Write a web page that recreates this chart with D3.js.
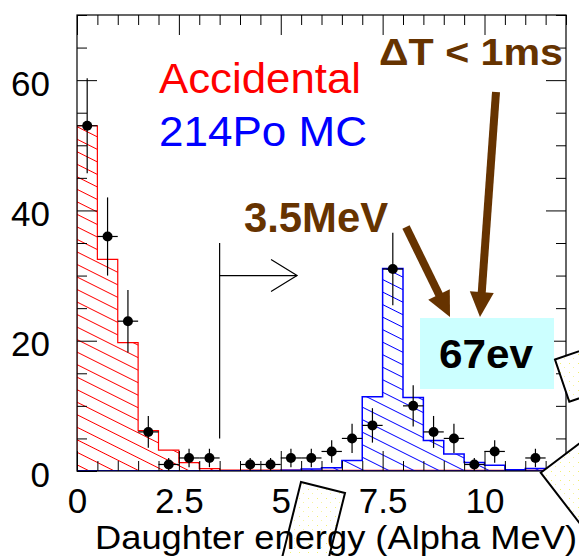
<!DOCTYPE html>
<html>
<head>
<meta charset="utf-8">
<script src="https://cdn.jsdelivr.net/npm/d3@7"></script>
<style>
  html, body { margin: 0; padding: 0; background: #fff; }
  svg { display: block; font-family: "Liberation Sans", Arial, Helvetica, sans-serif; }
</style>
</head>
<body>
<svg id="chart" width="579" height="556"></svg>
<script>
// ---------------- data ----------------
const binWidth = 0.5;
const binCenters = [0.25,0.75,1.25,1.75,2.25,2.75,3.25,3.75,4.25,4.75,5.25,5.75,
                    6.25,6.75,7.25,7.75,8.25,8.75,9.25,9.75,10.25,10.75,11.25,11.75];
const dataCounts = [53,36,23,6,1,2,2,0,1,1,2,2,3,5,7,31,10,6,5,1,3,0,2,0];
const accidental = [53,32.5,19.7,6.2,3.2,1.3,0.35,0.15,0.15,0.15,0.15,0.1,
                    0.1,0.1,0.1,0.1,0.1,0.1,0.1,0.1,0.1,0.1,0.1,0.1];
const po214MC = [0.05,0.05,0.05,0.05,0.05,0.05,0.05,0.05,0.05,0.05,0.1,0.3,
                 0.5,1.6,11.4,31.1,11.3,4.7,2.6,1.3,0.9,0.2,0.4,0.1];
const xMajorTicks = [0,2.5,5,7.5,10];
const xTickLabels = ["0","2.5","5","7.5","10"];
const yMajorTicks = [0,20,40,60];
const yTickLabels = ["0","20","40","60"];
const energyCut = 3.5;
const xTitle = "Daughter energy (Alpha MeV)";

// ---------------- setup ----------------
const svg = d3.select("#chart");
const L = 77, R = 566, T = 15, B = 471;
const x = d3.scaleLinear().domain([0,12]).range([L,R]);
const y = d3.scaleLinear().domain([0,70]).range([B,T]);
const brown = "#663300";

const defs = svg.append("defs");
function hatch(id, color){
  const p = defs.append("pattern").attr("id", id)
    .attr("patternUnits","userSpaceOnUse").attr("width", 40).attr("height", 11.2)
    .attr("patternTransform","rotate(26.57)");
  p.append("line").attr("x1",0).attr("x2",40).attr("y1",0.5).attr("y2",0.5)
    .attr("stroke",color).attr("stroke-width",1.1);
}
hatch("hRed","#ff0000");
hatch("hBlue","#0000ff");
const dots = defs.append("pattern").attr("id","dots").attr("patternUnits","userSpaceOnUse")
  .attr("width",9).attr("height",9);
dots.append("rect").attr("width",9).attr("height",9).attr("fill","#ffffff");
dots.append("rect").attr("x",2).attr("y",3).attr("width",1).attr("height",1).attr("fill","#f2f070");
dots.append("rect").attr("x",6).attr("y",7).attr("width",1).attr("height",1).attr("fill","#f5f3a0");
defs.append("clipPath").attr("id","plotClip").append("rect")
  .attr("x",L).attr("y",T).attr("width",R-L).attr("height",B-T);

const plot = svg.append("g").attr("clip-path","url(#plotClip)");

// histograms
function histPath(vals){
  const pts = [{e:0,v:0}, ...vals.map((v,i)=>({e:binCenters[i]-binWidth/2, v})), {e:12, v:0}];
  return d3.line().x(d=>x(d.e)).y(d=>y(d.v)).curve(d3.curveStepAfter)(pts) + "Z";
}
plot.append("path").attr("d", histPath(accidental))
  .attr("fill","url(#hRed)").attr("stroke","#ff0000").attr("stroke-width",1.2);
plot.append("path").attr("d", histPath(po214MC))
  .attr("fill","url(#hBlue)").attr("stroke","#0000ff").attr("stroke-width",1.5);

// axes (ticks inside, mirrored)
const minorX = d3.range(0,12.01,0.5).filter(v=>!xMajorTicks.includes(v));
const minorY = d3.range(0,70.01,5).filter(v=>!yMajorTicks.includes(v));
function styleAxis(g){ g.select(".domain").remove(); g.selectAll("line").attr("stroke","#000").attr("stroke-width",1); }
svg.append("g").attr("transform",`translate(0,${B})`)
  .call(d3.axisBottom(x).tickValues(xMajorTicks).tickSize(-20).tickPadding(17)
        .tickFormat((d,i)=>xTickLabels[i]))
  .call(styleAxis)
  .call(g=>g.selectAll("text").attr("font-size",35).attr("fill","#000")
        .attr("font-family","Liberation Sans, Arial, sans-serif"));
svg.append("g").attr("transform",`translate(0,${B})`)
  .call(d3.axisBottom(x).tickValues(minorX).tickSize(-10).tickFormat("")).call(styleAxis);
svg.append("g").attr("transform",`translate(0,${T})`)
  .call(d3.axisTop(x).tickValues(xMajorTicks).tickSize(-20).tickFormat("")).call(styleAxis);
svg.append("g").attr("transform",`translate(0,${T})`)
  .call(d3.axisTop(x).tickValues(minorX).tickSize(-10).tickFormat("")).call(styleAxis);
svg.append("g").attr("transform",`translate(${L},0)`)
  .call(d3.axisLeft(y).tickValues(yMajorTicks).tickSize(-20).tickPadding(27)
        .tickFormat((d,i)=>yTickLabels[i]))
  .call(styleAxis)
  .call(g=>g.selectAll("text").attr("font-size",35).attr("dy","0.43em").attr("fill","#000")
        .attr("font-family","Liberation Sans, Arial, sans-serif"));
svg.append("g").attr("transform",`translate(${L},0)`)
  .call(d3.axisLeft(y).tickValues(minorY).tickSize(-10).tickFormat("")).call(styleAxis);
svg.append("g").attr("transform",`translate(${R},0)`)
  .call(d3.axisRight(y).tickValues(yMajorTicks).tickSize(-20).tickFormat("")).call(styleAxis);
svg.append("g").attr("transform",`translate(${R},0)`)
  .call(d3.axisRight(y).tickValues(minorY).tickSize(-10).tickFormat("")).call(styleAxis);

svg.append("rect").attr("x",L).attr("y",T).attr("width",R-L).attr("height",B-T)
  .attr("fill","none").attr("stroke","#000").attr("stroke-width",1.2);

// data points with errors
const pts = binCenters.map((c,i)=>({c, n:dataCounts[i]})).filter(d=>d.n>0);
const pg = svg.append("g");
pg.selectAll("line.v").data(pts).join("line")
  .attr("x1",d=>x(d.c)).attr("x2",d=>x(d.c))
  .attr("y1",d=>y(d.n+Math.sqrt(d.n))).attr("y2",d=>y(Math.max(0,d.n-Math.sqrt(d.n))))
  .attr("stroke","#000").attr("stroke-width",1.2);
pg.selectAll("line.h").data(pts).join("line")
  .attr("x1",d=>x(d.c-binWidth/2)).attr("x2",d=>x(d.c+binWidth/2))
  .attr("y1",d=>y(d.n)).attr("y2",d=>y(d.n))
  .attr("stroke","#000").attr("stroke-width",1.2);
pg.selectAll("circle").data(pts).join("circle")
  .attr("cx",d=>x(d.c)).attr("cy",d=>y(d.n)).attr("r",5).attr("fill","#000");

// energy cut line and open arrow
const ann = svg.append("g");
ann.append("line").attr("x1",x(energyCut)).attr("x2",x(energyCut))
  .attr("y1",y(35)).attr("y2",y(5)).attr("stroke","#000").attr("stroke-width",1.2);
ann.append("line").attr("x1",x(energyCut)).attr("x2",x(5.4))
  .attr("y1",y(30)).attr("y2",y(30)).attr("stroke","#000").attr("stroke-width",1.2);
ann.append("path")
  .attr("d",`M${x(5.4)-26},${y(30)-16}L${x(5.4)},${y(30)}L${x(5.4)-26},${y(30)+16}`)
  .attr("fill","none").attr("stroke","#000").attr("stroke-width",1.2);

// brown arrows
function fatArrow(x0,y0,x1,y1){
  const dx=x1-x0, dy=y1-y0, len=Math.hypot(dx,dy), ux=dx/len, uy=dy/len;
  const hl=25, hw=12;
  const bx=x1-ux*hl, by=y1-uy*hl;
  ann.append("line").attr("x1",x0).attr("y1",y0).attr("x2",bx+ux*2).attr("y2",by+uy*2)
    .attr("stroke",brown).attr("stroke-width",8);
  ann.append("path")
    .attr("d",`M${x1},${y1}L${bx-uy*hw},${by+ux*hw}L${bx+uy*hw},${by-ux*hw}Z`)
    .attr("fill",brown);
}
fatArrow(406,227,450,317);
fatArrow(496,92,480,317);

// cyan box
ann.append("rect").attr("x",420).attr("y",318).attr("width",134).attr("height",71).attr("fill","#ccffff");
ann.append("text").attr("x",439).attr("y",368).attr("font-size",40).attr("font-weight","bold")
  .attr("textLength",94).attr("lengthAdjust","spacingAndGlyphs").attr("fill","#000").text("67ev");

// labels
ann.append("text").attr("x",159).attr("y",93).attr("font-size",43).attr("fill","#ff0000")
  .attr("textLength",202).attr("lengthAdjust","spacingAndGlyphs").text("Accidental");
ann.append("text").attr("x",159).attr("y",146).attr("font-size",43).attr("fill","#0000ff")
  .attr("textLength",208).attr("lengthAdjust","spacingAndGlyphs").text("214Po MC");
ann.append("text").attr("x",379).attr("y",65).attr("font-size",37.5).attr("font-weight","bold")
  .attr("fill",brown).attr("textLength",184).attr("lengthAdjust","spacingAndGlyphs").text("\u0394T < 1ms");
ann.append("text").attr("x",244).attr("y",232).attr("font-size",42).attr("font-weight","bold")
  .attr("fill",brown).attr("textLength",144).attr("lengthAdjust","spacingAndGlyphs").text("3.5MeV");

// slide overlay shapes
const shapes = [
  [[301,482],[345,493],[320,593],[276,582]],
  [[555,359.5],[618,338],[632.6,380.2],[569.3,401.7]],
  [[540.7,472.7],[595.6,431.2],[672.8,531.2],[617.9,572.7]]
];
svg.append("g").selectAll("path").data(shapes).join("path")
  .attr("d",d=>"M"+d.map(p=>p.join(",")).join("L")+"Z")
  .attr("fill","url(#dots)").attr("stroke","#000").attr("stroke-width",2);

// x title
svg.append("text").attr("x",95).attr("y",549).attr("font-size",33.5).attr("fill","#000")
  .attr("textLength",482).attr("lengthAdjust","spacingAndGlyphs").text(xTitle);
</script>
</body>
</html>
